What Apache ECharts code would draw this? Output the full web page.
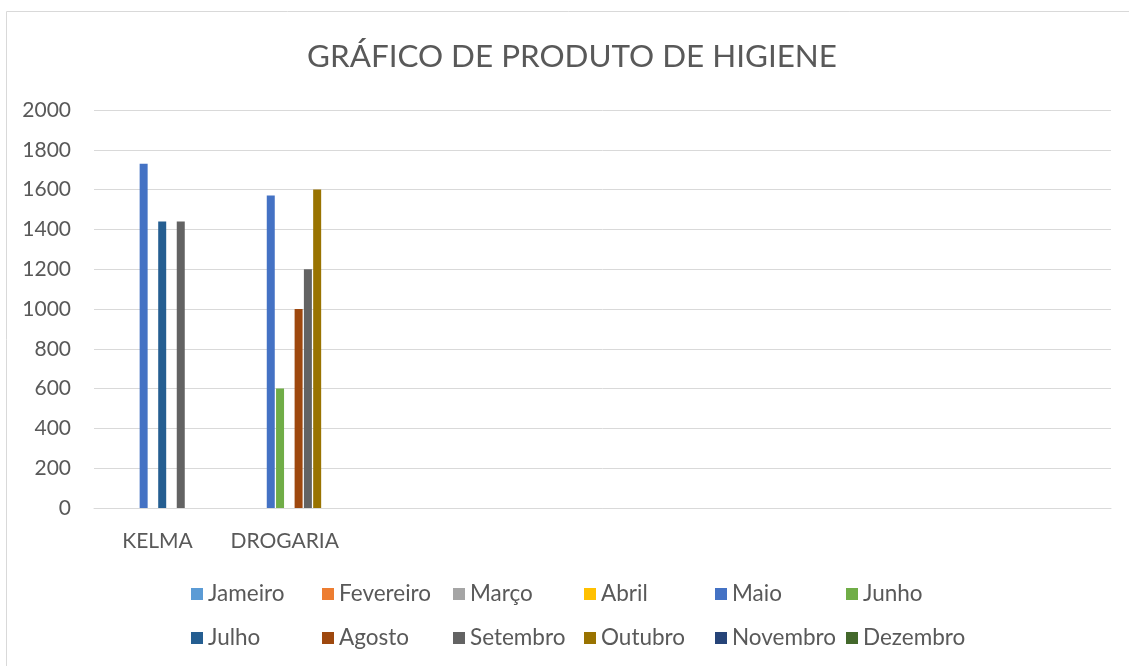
<!DOCTYPE html>
<html>
<head>
    <meta charset="utf-8">
    <title>Gráfico de produto de higiene</title>
    <script src="https://cdn.jsdelivr.net/npm/echarts@6/dist/echarts.min.js"></script>
    <style>
        html, body { margin: 0; padding: 0; background: #fff; }
        #main { width: 1129px; height: 666px; }
    </style>
</head>
<body>
<div id="main"></div>
<script type="text/javascript">
    // categorias do eixo x (so as duas primeiras tem nome)
    var categories = ['KELMA', 'DROGARIA', '', '', '', '', '', ''];
    var months = ['Jameiro', 'Fevereiro', 'Março', 'Abril', 'Maio', 'Junho',
                  'Julho', 'Agosto', 'Setembro', 'Outubro', 'Novembro', 'Dezembro'];

    // valores por mes: [KELMA, DROGARIA]
    var jameiro   = [null, null];
    var fevereiro = [null, null];
    var marco     = [null, null];
    var abril     = [null, null];
    var maio      = [1730, 1570];
    var junho     = [null, 600];
    var julho     = [1440, null];
    var agosto    = [null, 1000];
    var setembro  = [1440, 1200];
    var outubro   = [null, 1600];
    var novembro  = [null, null];
    var dezembro  = [null, null];

    var yTicks = [0, 200, 400, 600, 800, 1000, 1200, 1400, 1600, 1800, 2000];

    var monthValues = [jameiro, fevereiro, marco, abril, maio, junho,
                       julho, agosto, setembro, outubro, novembro, dezembro];
    var colors = ['#5B9BD5', '#ED7D31', '#A5A5A5', '#FFC000', '#4472C4', '#70AD47',
                  '#255E91', '#9E480E', '#636363', '#997300', '#264478', '#43682B'];

    var font = 'Lato, Carlito, "Open Sans", sans-serif';
    var textColor = '#595959';

    var myChart = echarts.init(document.getElementById('main'));

    var series = months.map(function (m, i) {
        return {
            name: m,
            type: 'bar',
            data: monthValues[i],
            barWidth: 8,
            barGap: '16%',
            itemStyle: { color: colors[i] },
            emphasis: { disabled: true }
        };
    });

    // duas linhas de legenda, 6 meses em cada
    var makeLegend = function (names, top) {
        return {
            data: names,
            left: 191,
            top: top,
            padding: 0,
            itemGap: 0,
            itemWidth: 12,
            itemHeight: 12,
            icon: 'rect',
            selectedMode: false,
            formatter: function (name) {
                return '{a|' + name + '}';
            },
            textStyle: {
                lineHeight: 24,
                rich: {
                    a: { width: 114, height: 24, fontFamily: font, fontSize: 22.5, lineHeight: 24, color: textColor }
                }
            }
        };
    };

    var option = {
        animation: false,
        color: colors,
        title: {
            text: 'GRÁFICO DE PRODUTO DE HIGIENE',
            left: 567,
            textAlign: 'center',
            top: 36,
            textStyle: { fontFamily: font, fontSize: 31.4, fontWeight: 'normal', color: textColor }
        },
        graphic: [{
            type: 'rect',
            silent: true,
            shape: { x: 6.5, y: 11.5, width: 1200, height: 700 },
            style: { fill: 'none', stroke: '#d9d9d9', lineWidth: 1 }
        }],
        grid: { left: 94, right: 18, top: 110, bottom: 158 },
        xAxis: {
            type: 'category',
            data: categories,
            axisLine: { lineStyle: { color: '#d9d9d9', width: 1 } },
            axisTick: { show: false },
            axisLabel: { fontFamily: font, fontSize: 21, color: textColor, margin: 23, interval: 0 }
        },
        yAxis: {
            type: 'value',
            min: yTicks[0],
            max: yTicks[yTicks.length - 1],
            interval: yTicks[1] - yTicks[0],
            axisLine: { show: false },
            axisTick: { show: false },
            splitLine: { lineStyle: { color: '#d9d9d9', width: 1 } },
            axisLabel: {
                fontFamily: font, fontSize: 21, color: textColor, margin: 23,
                formatter: function (v) { return String(v); }
            }
        },
        legend: [
            makeLegend(months.slice(0, 6), 582),
            makeLegend(months.slice(6), 626)
        ],
        series: series
    };

    myChart.setOption(option);
</script>
</body>
</html>
